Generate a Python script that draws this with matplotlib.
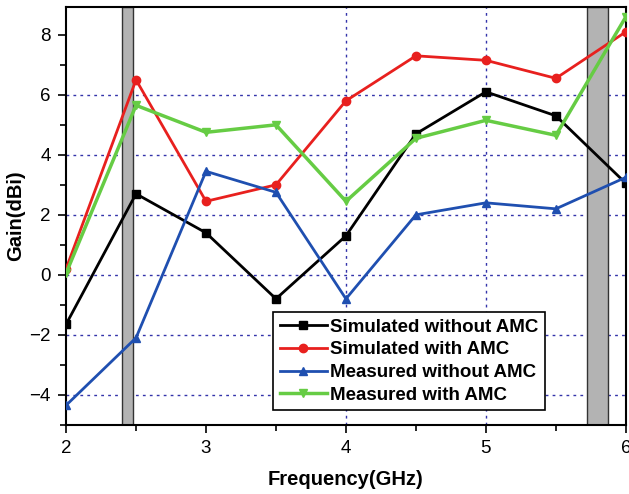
import matplotlib
matplotlib.use('Agg')
import matplotlib.pyplot as plt
from matplotlib.ticker import MultipleLocator

freq = [2.0, 2.5, 3.0, 3.5, 4.0, 4.5, 5.0, 5.5, 6.0]
sim_without = [-1.65, 2.7, 1.4, -0.8, 1.3, 4.7, 6.1, 5.3, 3.05]
sim_with = [0.2, 6.5, 2.45, 3.0, 5.8, 7.3, 7.15, 6.55, 8.1]
meas_without = [-4.35, -2.1, 3.45, 2.75, -0.8, 2.0, 2.4, 2.2, 3.25]
meas_with = [0.05, 5.65, 4.75, 5.0, 2.45, 4.55, 5.15, 4.65, 8.6]
bands = [(2.4, 2.48), (5.725, 5.875)]

plt.rcParams['font.family'] = ['Liberation Sans', 'DejaVu Sans']

fig = plt.figure(figsize=(6.29, 4.94), dpi=100)
ax = fig.add_axes([0.105, 0.14, 0.89, 0.846])

for b in bands:
    ax.axvspan(b[0], b[1], facecolor='#b3b3b3', edgecolor='#333333', lw=1, zorder=1)

for yv in [-4, -2, 0, 2, 4, 6]:
    ax.axhline(yv, color='#3333aa', ls=(0, (2, 3)), lw=1, zorder=0)
for xv in [4, 5]:
    ax.axvline(xv, color='#3333aa', ls=(0, (2, 3)), lw=1, zorder=0)

ax.plot(freq, sim_without, color='black', marker='s', ms=6, lw=2, label='Simulated without AMC', zorder=3)
ax.plot(freq, sim_with, color='#e8201e', marker='o', ms=6, lw=2, label='Simulated with AMC', zorder=3)
ax.plot(freq, meas_without, color='#1f4fb0', marker='^', ms=6, lw=2, label='Measured without AMC', zorder=3)
ax.plot(freq, meas_with, color='#66cc44', marker='v', ms=6, lw=2.5, label='Measured with AMC', zorder=3)

ax.set_xlim(2, 6)
ax.set_ylim(-5, 8.93)
ax.xaxis.set_major_locator(MultipleLocator(1))
ax.xaxis.set_minor_locator(MultipleLocator(0.5))
ax.yaxis.set_major_locator(MultipleLocator(2))
ax.yaxis.set_minor_locator(MultipleLocator(1))
ax.tick_params(which='major', direction='out', length=6, width=1.2, labelsize=13.5, pad=5)
ax.tick_params(which='minor', direction='out', length=4, width=1.2)
for s in ax.spines.values():
    s.set_linewidth(1.5)

ax.set_xlabel('Frequency(GHz)', fontsize=14.5, fontweight='bold', labelpad=9)
ax.set_ylabel('Gain(dBi)', fontsize=14.5, fontweight='bold', labelpad=3)

leg = ax.legend(loc='lower right', bbox_to_anchor=(0.873, 0.012),
                prop={'weight': 'bold', 'size': 13.5}, frameon=True, fancybox=False,
                handlelength=2.5, handletextpad=0.2, labelspacing=0.3, borderpad=0.35)
leg.get_frame().set_edgecolor('black')
leg.get_frame().set_linewidth(1.2)
leg.get_frame().set_alpha(1)

plt.savefig('out.png', dpi=100)
plt.close()
